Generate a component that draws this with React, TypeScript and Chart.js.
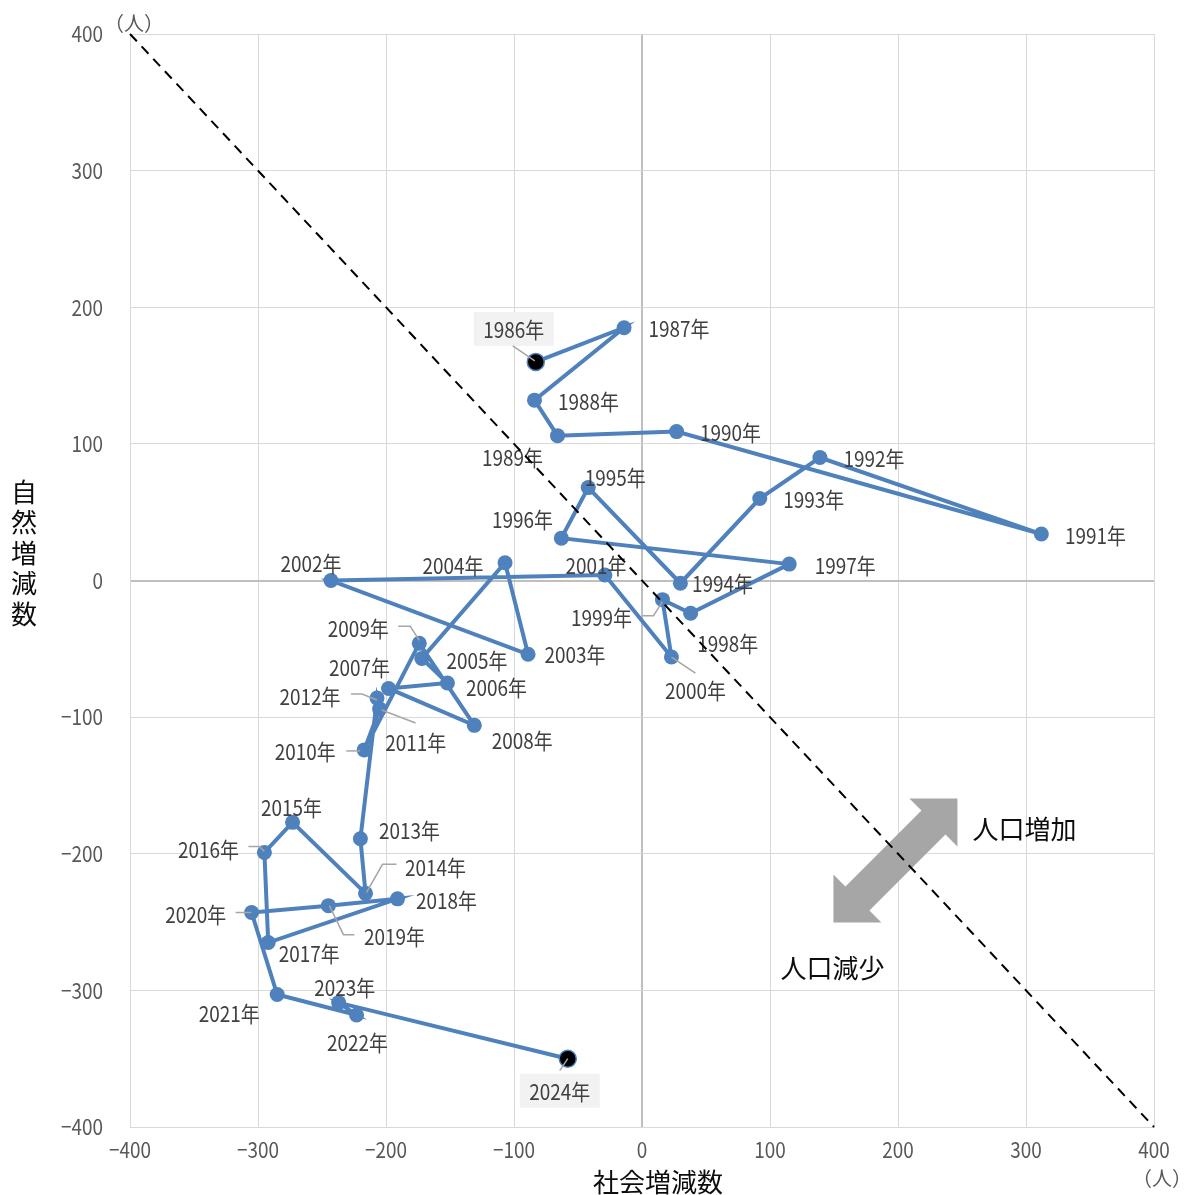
import React, { useEffect, useRef } from 'react';
import { Chart, registerables } from 'chart.js';

Chart.register(...registerables);

// ---- data ----
const years = [
  '1986年', '1987年', '1988年', '1989年', '1990年', '1991年', '1992年', '1993年', '1994年', '1995年',
  '1996年', '1997年', '1998年', '1999年', '2000年', '2001年', '2002年', '2003年', '2004年', '2005年',
  '2006年', '2007年', '2008年', '2009年', '2010年', '2011年', '2012年', '2013年', '2014年', '2015年',
  '2016年', '2017年', '2018年', '2019年', '2020年', '2021年', '2022年', '2023年', '2024年',
];
// 社会増減数 (x)
const socialChange = [
  -83, -14, -84, -66, 27, 312, 139, 92, 30, -42,
  -63, 115, 38, 16, 23, -29, -243, -89, -107, -172,
  -152, -198, -131, -174, -217, -205, -207, -220, -216, -273,
  -295, -292, -191, -245, -305, -285, -223, -237, -58,
];
// 自然増減数 (y)
const naturalChange = [
  160, 185, 132, 106, 109, 34, 90, 60, -2, 68,
  31, 12, -24, -14, -56, 4, 0, -54, 13, -57,
  -75, -79, -106, -46, -124, -94, -86, -189, -229, -177,
  -199, -265, -233, -238, -243, -303, -318, -309, -350,
];
const highlightYears = ['1986年', '2024年'];

// axis
const axisMin = -400;
const axisMax = 400;
const tickStep = 100;
const xAxisTitle = '社会増減数';
const yAxisTitle = '自然増減数';
const unitLabel = '（人）';
const increaseLabel = '人口増加';
const decreaseLabel = '人口減少';

// break-even diagonal (自然増減 + 社会増減 = 0)
const diagonalX = [-400, 400];
const diagonalY = [400, -400];

// ---- label placement (pixel offsets of label centre from its point) ----
const labelOffsets: Record<string, [number, number]> = {
  '1986年': [-22, -33], '1987年': [55, 0], '1988年': [54, 0], '1989年': [-45, 21], '1990年': [54, 0],
  '1991年': [54, 1], '1992年': [54, 0], '1993年': [54, 0], '1994年': [42, -1], '1995年': [27, -11],
  '1996年': [-39, -20], '1997年': [56, 1], '1998年': [37, 29], '1999年': [-61, 17], '2000年': [24, 33],
  '2001年': [-9, -10], '2002年': [-20, -18], '2003年': [47, -1], '2004年': [-52, 2], '2005年': [55, 1],
  '2006年': [49, 4], '2007年': [-29, -22], '2008年': [48, 14], '2009年': [-61, -16], '2010年': [-59, 1],
  '2011年': [36, 33], '2012年': [-67, -2], '2013年': [49, -9], '2014年': [70, -27], '2015年': [-1, -16],
  '2016年': [-56, -4], '2017年': [41, 10], '2018年': [49, 1], '2019年': [66, 30], '2020年': [-56, 1],
  '2021年': [-48, 18], '2022年': [1, 27], '2023年': [6, -16], '2024年': [-8, 32],
};
const leaderLines: Record<string, [number, number][]> = {
  '1986年': [[-23, -16], [-1, -1]],
  '1999年': [[-20, 16], [-9, 16], [0, 2]],
  '2000年': [[0, 0], [24, 16]],
  '2009年': [[-21, -17], [-9, -17], [0, -3]],
  '2010年': [[-18, 1], [-4, 1]],
  '2011年': [[2, 1], [36, 14]],
  '2012年': [[-26, -4], [-15, -4], [0, 2]],
  '2014年': [[1, -1], [17, -29], [31, -29]],
  '2016年': [[-16, -6], [-5, -6], [0, -1]],
  '2019年': [[1, 0], [15, 29], [26, 29]],
  '2020年': [[-16, 0], [0, 0]],
  '2024年': [[0, 0], [-8, 12]],
};
const arrowCenter = [198, -205];

// "NarrowNum" is not a real font: it marks text to be drawn horizontally condensed
const NUM_FONT = '"NarrowNum", "Noto Sans CJK JP", sans-serif';
const CJK_FONT = '"Noto Sans CJK JP", sans-serif';
const SERIES_COLOR = '#4f81bd';
const CONDENSE = 0.86;

const annotationPlugin = {
  id: 'annotations',
  beforeDatasetsDraw(chart: any) {
    const { ctx, scales } = chart;
    const cx = scales.x.getPixelForValue(arrowCenter[0]);
    const cy = scales.y.getPixelForValue(arrowCenter[1]);
    const pts = [
      [62, -62], [62, -14], [50, -26], [-26, 50], [-14, 62],
      [-62, 62], [-62, 14], [-50, 26], [26, -50], [14, -62],
    ];
    ctx.save();
    ctx.fillStyle = '#a6a6a6';
    ctx.beginPath();
    pts.forEach(([dx, dy], i) => {
      if (i === 0) ctx.moveTo(cx + dx, cy + dy);
      else ctx.lineTo(cx + dx, cy + dy);
    });
    ctx.closePath();
    ctx.fill();
    ctx.restore();
  },
  afterDatasetDraw(chart: any, args: any) {
    if (args.index !== 0) return;
    const { ctx } = chart;
    const meta = chart.getDatasetMeta(0);
    ctx.save();
    ctx.font = `22px ${NUM_FONT}`;
    ctx.textAlign = 'center';
    ctx.textBaseline = 'middle';
    years.forEach((yr, i) => {
      const el = meta.data[i];
      const px = el.x;
      const py = el.y;
      const [dx, dy] = labelOffsets[yr] || [50, 0];
      const tx = px + dx;
      const ty = py + dy;
      if (highlightYears.includes(yr)) {
        ctx.fillStyle = '#f2f2f2';
        ctx.fillRect(tx - 40, ty - 17, 80, 34);
      }
      const lead = leaderLines[yr];
      if (lead) {
        ctx.strokeStyle = '#a6a6a6';
        ctx.lineWidth = 1.5;
        ctx.beginPath();
        lead.forEach(([lx, ly], j) => {
          if (j === 0) ctx.moveTo(px + lx, py + ly);
          else ctx.lineTo(px + lx, py + ly);
        });
        ctx.stroke();
      }
      ctx.fillStyle = '#404040';
      ctx.fillText(yr, tx, ty + 1);
    });
    ctx.restore();
  },
  afterDraw(chart: any) {
    const { ctx, chartArea, scales } = chart;
    ctx.save();
    ctx.fillStyle = '#0d0d0d';
    ctx.font = `26px ${CJK_FONT}`;
    ctx.textAlign = 'center';
    ctx.textBaseline = 'middle';
    ctx.fillText(xAxisTitle, (chartArea.left + chartArea.right) / 2 + 16, 1182);
    const chars = Array.from(yAxisTitle);
    chars.forEach((c, i) => {
      ctx.fillText(c, 24, 553 + (i - (chars.length - 1) / 2) * 30.5);
    });
    ctx.fillStyle = '#595959';
    ctx.font = `20px ${CJK_FONT}`;
    ctx.fillText(unitLabel, chartArea.left + 4, chartArea.top - 11);
    ctx.fillText(unitLabel, chartArea.right + 8, 1178);
    ctx.fillStyle = '#0d0d0d';
    ctx.font = `26px ${CJK_FONT}`;
    const cx = scales.x.getPixelForValue(arrowCenter[0]);
    const cy = scales.y.getPixelForValue(arrowCenter[1]);
    ctx.fillText(increaseLabel, cx + 129, cy - 31);
    ctx.fillText(decreaseLabel, cx - 63, cy + 108);
    ctx.restore();
  },
};

const fmt = (v: any) => {
  const n = Number(v);
  return n < 0 ? '−' + Math.abs(n) : String(n);
};

function condenseContext(ctx: any) {
  const orig = ctx.fillText.bind(ctx);
  ctx.fillText = (text: string, x: number, y: number, maxW?: number) => {
    if (String(ctx.font).includes('NarrowNum')) {
      ctx.save();
      ctx.translate(x, y);
      ctx.scale(CONDENSE, 1);
      if (maxW !== undefined) orig(text, 0, 0, maxW / CONDENSE);
      else orig(text, 0, 0);
      ctx.restore();
    } else if (maxW !== undefined) {
      orig(text, x, y, maxW);
    } else {
      orig(text, x, y);
    }
  };
}

export default function App() {
  const ref = useRef<HTMLCanvasElement | null>(null);
  useEffect(() => {
    if (!ref.current) return;
    const ctx2d = ref.current.getContext('2d');
    if (ctx2d) condenseContext(ctx2d);
    const chart = new Chart(ref.current, {
      type: 'scatter',
      data: {
        datasets: [
          {
            label: 'series',
            data: socialChange.map((x, i) => ({ x, y: naturalChange[i] })),
            showLine: true,
            borderColor: SERIES_COLOR,
            borderWidth: 4,
            pointRadius: (c: any) => (highlightYears.includes(years[c.dataIndex]) ? 8.5 : 7.5),
            pointBackgroundColor: (c: any) => (highlightYears.includes(years[c.dataIndex]) ? '#000000' : SERIES_COLOR),
            pointBorderColor: SERIES_COLOR,
            pointBorderWidth: (c: any) => (highlightYears.includes(years[c.dataIndex]) ? 1.5 : 0),
            order: 1,
          } as any,
          {
            label: 'diagonal',
            data: diagonalX.map((x, i) => ({ x, y: diagonalY[i] })),
            showLine: true,
            borderColor: '#000000',
            borderWidth: 2,
            borderDash: [10, 7],
            pointRadius: 0,
            order: 0,
            clip: false,
          } as any,
        ],
      },
      options: {
        responsive: false,
        animation: false,
        devicePixelRatio: 1,
        layout: { padding: { top: 34, right: 32, left: 0, bottom: 0 } },
        plugins: { legend: { display: false }, tooltip: { enabled: false } },
        scales: {
          x: {
            type: 'linear',
            min: axisMin,
            max: axisMax,
            ticks: {
              stepSize: tickStep,
              color: '#595959',
              font: { size: 22, family: NUM_FONT },
              padding: 9,
              callback: fmt,
            },
            grid: {
              color: (c: any) => (c.tick && c.tick.value === 0 ? '#bfbfbf' : '#d9d9d9'),
              lineWidth: (c: any) => (c.tick && c.tick.value === 0 ? 2 : 1),
              drawTicks: false,
            },
            border: { display: true, color: '#d9d9d9' },
            afterFit: (s: any) => {
              s.height = 68;
              s.paddingLeft = 0; s.paddingRight = 0; s.paddingTop = 0; s.paddingBottom = 0;
            },
          },
          y: {
            type: 'linear',
            min: axisMin,
            max: axisMax,
            ticks: {
              stepSize: tickStep,
              color: '#595959',
              font: { size: 22, family: NUM_FONT },
              padding: 27,
              callback: fmt,
            },
            grid: {
              color: (c: any) => (c.tick && c.tick.value === 0 ? '#bfbfbf' : '#d9d9d9'),
              lineWidth: (c: any) => (c.tick && c.tick.value === 0 ? 2 : 1),
              drawTicks: false,
            },
            border: { display: true, color: '#d9d9d9' },
            afterFit: (s: any) => {
              s.width = 130;
              s.paddingLeft = 0; s.paddingRight = 0; s.paddingTop = 0; s.paddingBottom = 0;
            },
          },
        },
      } as any,
      plugins: [annotationPlugin],
    });
    return () => chart.destroy();
  }, []);
  return (
    <div style={{ position: 'fixed', left: 0, top: 0, width: 1186, height: 1195, background: '#fff' }}>
      <canvas ref={ref} width={1186} height={1195} style={{ display: 'block' }} />
    </div>
  );
}
